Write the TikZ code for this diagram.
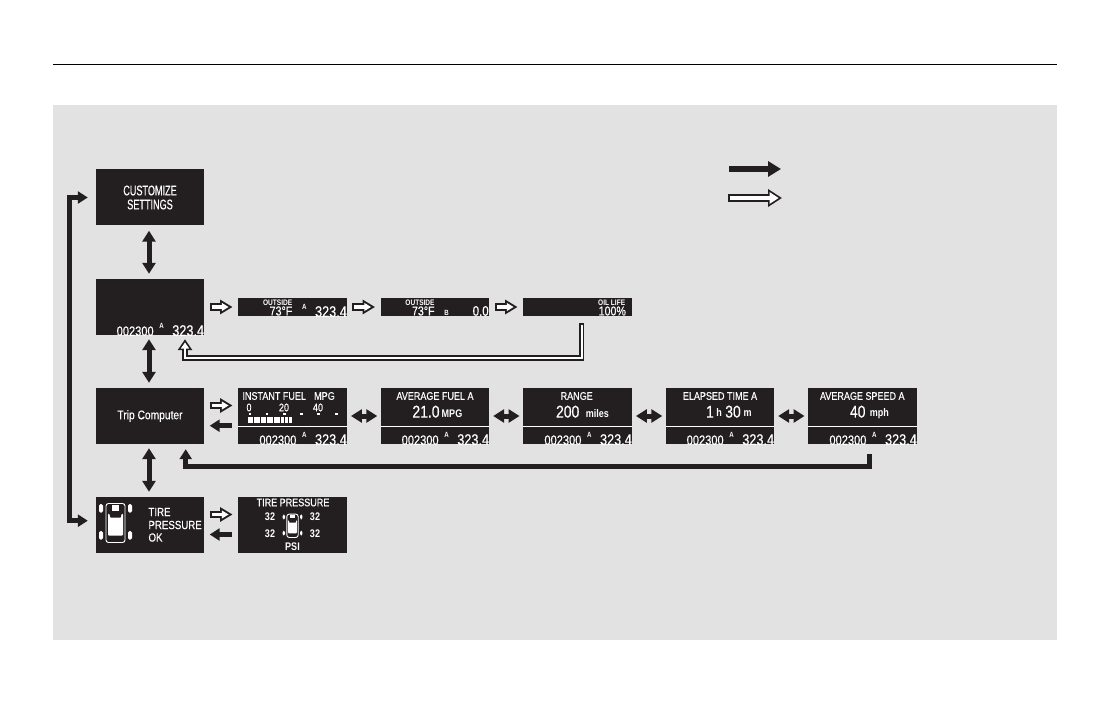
\documentclass[tikz,border=0pt]{standalone}
\usepackage{fontspec}
\usetikzlibrary{arrows.meta}
\setmainfont{Liberation Sans}
\newfontfamily\lcdnarrow[FakeStretch=0.65,FakeBold=0.35]{Liberation Sans}
\newfontfamily\lcdmid[FakeStretch=0.82,FakeBold=0.35]{Liberation Sans}
\newfontfamily\lcdbold[FakeStretch=0.82]{Liberation Sans Bold}
\definecolor{panelgrey}{HTML}{E2E2E2}
\definecolor{lcdblack}{HTML}{231F20}
\tikzset{
  screen/.style={fill=lcdblack,text=white,inner sep=0pt,minimum width=108pt,minimum height=56pt,align=center},
  strip/.style={fill=lcdblack,inner sep=0pt,minimum width=108.5pt,minimum height=18pt},
  lcdtext/.style={text=white,inner sep=0pt,font=\lcdmid\fontsize{11}{13}\selectfont},
  lcdbig/.style={text=white,inner sep=0pt,font=\lcdmid\fontsize{17}{19}\selectfont},
  lcdunit/.style={text=white,inner sep=0pt,font=\lcdbold\fontsize{11}{13}\selectfont},
  lcdsmall/.style={text=white,inner sep=0pt,font=\lcdbold\fontsize{8}{9}\selectfont},
  lcdtemp/.style={text=white,inner sep=0pt,font=\lcdmid\fontsize{13}{14}\selectfont},
  lcdmark/.style={text=white,inner sep=0pt,font=\lcdbold\fontsize{7.5}{8}\selectfont},
  solidarrow/.style={draw=lcdblack,line width=5pt,{Triangle[length=11pt,width=13pt]}-{Triangle[length=11pt,width=13pt]}},
  solidhead/.style={draw=lcdblack,line width=5pt,-{Triangle[length=10pt,width=12pt]}},
  solidkey/.style={draw=lcdblack,line width=6pt,-{Triangle[length=13pt,width=15pt]}},
  hollowarrow/.style={draw=lcdblack,line width=7.4pt,-{Triangle[length=12.5pt,width=14pt]},
    postaction={draw=white,line width=3.6pt,shorten <=1.9pt,shorten >=3.9pt,-{Triangle[length=6.7pt,width=7.5pt]}}},
  hollowreturn/.style={draw=lcdblack,line width=5.4pt,line join=miter,-{Triangle[length=11pt,width=14pt]},
    postaction={draw=white,line width=2pt,shorten <=1.7pt,shorten >=3.2pt,-{Triangle[length=6.1pt,width=7.8pt]}}},
  hollowkey/.style={draw=lcdblack,line width=7.4pt,-{Triangle[length=14pt,width=17pt]},
    postaction={draw=white,line width=4pt,shorten <=1.7pt,shorten >=3.3pt,-{Triangle[length=9pt,width=10.9pt]}}},
}
% mark and trip figure, then the same with the distance
\newcommand{\readout}[1]{
  \begin{scope}
  \clip (#1.south west) rectangle (#1.north east);
  \node[lcdmark] (#1mark) at ([xshift=-42.5pt,yshift=9pt]#1.south east) {A};
  \node[text=white,inner sep=0pt,font=\lcdmid\fontsize{15.5}{16}\selectfont] (#1trip) at ([xshift=-16pt,yshift=4.5pt]#1.south east) {323.4};
  \end{scope}
}
\newcommand{\odoline}[1]{
  \readout{#1}
  \begin{scope}
  \clip (#1.south west) rectangle (#1.north east);
  \node[text=white,inner sep=0pt,font=\lcdmid\fontsize{13.5}{14}\selectfont] (#1dist) at ([xshift=-69pt,yshift=4pt]#1.south east) {002300};
  \end{scope}
}
\newcommand{\caricon}{
  \draw[white,line width=0.9pt,rounded corners=2.5pt] (-9.5,-19) rectangle (9.5,20);
  \fill[white,rounded corners=1pt] (-7.5,-9) rectangle (7.5,13);
  \fill[lcdblack] (-6.5,-9.5) -- (6.5,-9.5) -- (5,-5) -- (-5,-5) -- cycle;
  \fill[white] (-3.5,-17.5) rectangle (3.5,-12);
  \fill[white,rounded corners=1.5pt] (-16.5,-18.5) rectangle (-12.5,-10);
  \fill[white,rounded corners=1.5pt] (12.5,-18.5) rectangle (16.5,-10);
  \fill[white,rounded corners=1.5pt] (-16.5,8.5) rectangle (-12.5,17);
  \fill[white,rounded corners=1.5pt] (12.5,8.5) rectangle (16.5,17);
}
\begin{document}
\begin{tikzpicture}[x=1pt,y=-1pt]
\useasboundingbox (0,0) rectangle (1120,722);
\draw[black,line width=1pt] (53,65) -- (1057,65);
\fill[panelgrey] (53,105) rectangle (1057,640);
% left column
\node[screen,font=\lcdnarrow\fontsize{14}{14}\selectfont] (customize) at (150,197.5) {CUSTOMIZE\\SETTINGS};
\node[screen] (odo) at (150,307) {};
\node[screen,font=\lcdmid\fontsize{12.5}{14}\selectfont] (trip) at (150,416) {Trip Computer};
\node[screen] (tire) at (150,525) {};
\odoline{odo}
% top strips
\node[strip] (outsidea) at (292.5,307) {};
\node[strip] (outsideb) at (435,307) {};
\node[strip] (oil) at (577.5,307) {};
\readout{outsidea}
\node[lcdsmall] (outsidealabel) at (277.7,303) {OUTSIDE};
\node[lcdtemp] (outsideatemp) at (281,311) {73°F};
\node[lcdsmall] (outsideblabel) at (420,303) {OUTSIDE};
\node[lcdtemp] (outsidebtemp) at (423.3,311) {73°F};
\node[lcdmark] (outsidebmark) at (446.7,313) {B};
\node[text=white,inner sep=0pt,font=\lcdmid\fontsize{14}{15}\selectfont] (outsidebtrip) at (480.7,311) {0.0};
\node[lcdsmall] (oillabel) at (611.7,303) {OIL LIFE};
\node[lcdtemp] (oilvalue) at (612.3,311) {100\%};
% trip computer row
\node[screen,minimum width=108.5pt] (instant) at (292.5,416) {};
\node[screen] (average) at (435,416) {};
\node[screen,minimum width=108.5pt] (range) at (577.5,416) {};
\node[screen] (elapsed) at (720,416) {};
\node[screen,minimum width=108.5pt] (speed) at (862.5,416) {};
\odoline{instant}
\odoline{average}
\odoline{range}
\odoline{elapsed}
\odoline{speed}
\draw[white,line width=0.8pt] (instant.west |- 0,426) -- (instant.east |- 0,426);
\draw[white,line width=0.8pt] (average.west |- 0,426) -- (average.east |- 0,426);
\draw[white,line width=0.8pt] (range.west |- 0,426) -- (range.east |- 0,426);
\draw[white,line width=0.8pt] (elapsed.west |- 0,426) -- (elapsed.east |- 0,426);
\draw[white,line width=0.8pt] (speed.west |- 0,426) -- (speed.east |- 0,426);
\node[lcdtext] (instantlabel) at (274.2,396) {INSTANT FUEL};
\node[lcdtext] (instantunit) at (324.5,396) {MPG};
\node[lcdtext] (scalezero) at (249,407.5) {0};
\node[lcdtext] (scaletwenty) at (284,407.5) {20};
\node[lcdtext] (scaleforty) at (318,407.5) {40};
\fill[white] (248.5,413) rectangle (251,415);
\fill[white] (265.5,413) rectangle (268,415);
\fill[white] (283,413) rectangle (285.5,415);
\fill[white] (300,413) rectangle (302.5,415);
\fill[white] (317,413) rectangle (319.5,415);
\fill[white] (335,413) rectangle (337.5,415);
\fill[white] (248,416.5) rectangle (253,422.5);
\fill[white] (254,416.5) rectangle (259.5,422.5);
\fill[white] (260.5,416.5) rectangle (266,422.5);
\fill[white] (267,416.5) rectangle (272.5,422.5);
\fill[white] (273.5,416.5) rectangle (279.5,422.5);
\fill[white] (281,416.5) rectangle (284,422.5);
\fill[white] (285,416.5) rectangle (288,422.5);
\fill[white] (289,416.5) rectangle (292,422.5);
\node[lcdtext] (averagelabel) at (435,396) {AVERAGE FUEL A};
\node[lcdbig] (averagevalue) at (426,411.7) {21.0};
\node[lcdunit] (averageunit) at (452,413.7) {MPG};
\node[lcdtext] (rangelabel) at (576.7,396) {RANGE};
\node[lcdbig] (rangevalue) at (567.7,411.7) {200};
\node[lcdunit] (rangeunit) at (597.3,413.7) {miles};
\node[lcdtext] (elapsedlabel) at (720,396) {ELAPSED TIME A};
\node[lcdbig] (elapsedhours) at (710,411.7) {1};
\node[lcdunit] (elapsedh) at (719,413) {h};
\node[lcdbig] (elapsedmins) at (733,411.7) {30};
\node[lcdunit] (elapsedm) at (747.7,413.7) {m};
\node[lcdtext] (speedlabel) at (862.3,396) {AVERAGE SPEED A};
\node[lcdbig] (speedvalue) at (857.7,411.7) {40};
\node[lcdunit] (speedunit) at (879.3,413.7) {mph};
% tire pressure row
\node[screen,minimum width=108.5pt] (pressure) at (292.5,525) {};
\begin{scope}[shift={(115.5,522.5)}]
\caricon
\end{scope}
\node[lcdtext,font=\lcdmid\fontsize{11.8}{13}\selectfont,anchor=west] (tireline) at (148.3,512) {TIRE};
\node[lcdtext,font=\lcdmid\fontsize{11.8}{13}\selectfont,anchor=west] (pressureline) at (148.3,525) {PRESSURE};
\node[lcdtext,font=\lcdmid\fontsize{11.8}{13}\selectfont,anchor=west] (okline) at (148.3,537.5) {OK};
\node[lcdtext] (pressurelabel) at (293,502.5) {TIRE PRESSURE};
\node[lcdunit] (frontleft) at (270,516.5) {32};
\node[lcdunit] (frontright) at (315,516.5) {32};
\node[lcdunit] (rearleft) at (270,533.5) {32};
\node[lcdunit] (rearright) at (315,533.5) {32};
\node[lcdunit] (psilabel) at (292.5,546.5) {PSI};
\begin{scope}[shift={(292.5,525.5)},scale=0.6]
\caricon
\end{scope}
% arrows between screens
\draw[solidarrow] ([xshift=-1pt,yshift=-5pt]customize.south) -- ([xshift=-1pt,yshift=5pt]odo.north);
\draw[solidarrow] ([xshift=-1pt,yshift=-4pt]odo.south) -- ([xshift=-1pt,yshift=5pt]trip.north);
\draw[solidarrow] ([xshift=-1pt,yshift=-4pt]trip.south) -- ([xshift=-1pt,yshift=5pt]tire.north);
\draw[solidarrow] ([xshift=4pt]instant.east) -- ([xshift=-3.5pt]average.west);
\draw[solidarrow] ([xshift=4pt]average.east) -- ([xshift=-3.5pt]range.west);
\draw[solidarrow] ([xshift=4pt]range.east) -- ([xshift=-3.5pt]elapsed.west);
\draw[solidarrow] ([xshift=4pt]elapsed.east) -- ([xshift=-3.5pt]speed.west);
\draw[hollowarrow] ([xshift=5.5pt]odo.east) -- ([xshift=-5.5pt]outsidea.west);
\draw[hollowarrow] ([xshift=5.5pt]outsidea.east) -- ([xshift=-5.5pt]outsideb.west);
\draw[hollowarrow] ([xshift=5.5pt]outsideb.east) -- ([xshift=-5.5pt]oil.west);
\draw[hollowarrow] ([xshift=5.5pt,yshift=10.5pt]trip.east) -- ([xshift=-5.5pt,yshift=10.5pt]instant.west);
\draw[solidhead] ([xshift=-6.5pt,yshift=-9.7pt]instant.west) -- ([xshift=5.5pt,yshift=-9.7pt]trip.east);
\draw[hollowarrow] ([xshift=5.5pt,yshift=10.5pt]tire.east) -- ([xshift=-5.5pt,yshift=10.5pt]pressure.west);
\draw[solidhead] ([xshift=-6.5pt,yshift=-9.5pt]pressure.west) -- ([xshift=5.5pt,yshift=-9.5pt]tire.east);
% return lines
\coordinate (oilturn) at (185,358);
\draw[hollowreturn] ([xshift=4.2pt,yshift=-7pt]oil.south) |- (oilturn) -- ([xshift=35pt,yshift=-4pt]odo.south);
\coordinate (speedturn) at (185.7,466.7);
\draw[solidhead,line join=miter] ([xshift=6.8pt,yshift=-10pt]speed.south) |- (speedturn) -- ([xshift=35.7pt,yshift=-5pt]trip.south);
% outer loop
\coordinate (loopside) at (69.3,360);
\coordinate (tirein) at ([xshift=-8pt,yshift=4.3pt]tire.west);
\draw[solidarrow,line join=miter,{Triangle[length=10pt,width=12pt]}-{Triangle[length=10pt,width=12pt]}] ([xshift=-8pt]customize.west) -| (loopside) |- (tirein);
% key
\coordinate (solidstart) at (729,169);
\coordinate (solidend) at (781,169);
\coordinate (hollowstart) at (728,198);
\coordinate (hollowend) at (782,198);
\draw[solidkey] (solidstart) -- (solidend);
\draw[hollowkey] (hollowstart) -- (hollowend);
\end{tikzpicture}
\end{document}
